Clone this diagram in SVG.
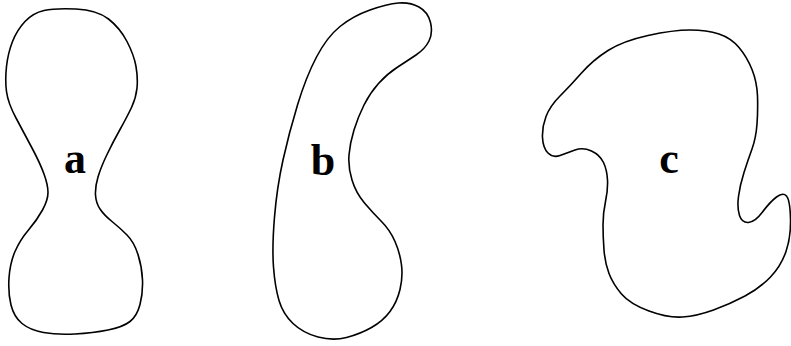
<svg xmlns="http://www.w3.org/2000/svg" width="791" height="346" viewBox="0 0 791 346">
<style>
.shape{fill:none;stroke:#000;stroke-width:1.6;stroke-linejoin:round}
.lbl{font-family:"Liberation Serif","Times New Roman",serif;font-weight:bold;font-size:44px;fill:#000;text-anchor:middle}
</style>
<rect width="791" height="346" fill="#fff"/>
<g id="shape-a">
<path class="shape" d="M44,10.5 Q55,8 76,9 Q97,10 108.5,19 Q120,28 127,41.5 Q134,55 136,66.5 Q138,78 137,88 Q136,98 131.5,107.5 Q127,117 120,129.5 Q113,142 107,154.5 Q101,167 98,177 Q95,187 95.5,195 Q96,203 100,209 Q104,215 112,221.5 Q120,228 127,235 Q134,242 138,254.5 Q142,267 142.5,280 Q143,293 140,304.5 Q137,316 130,321.5 Q123,327 108,330 Q93,333 75,334 Q57,335 43.5,332.5 Q30,330 22,323.5 Q14,317 11,305 Q8,293 9,278 Q10,263 15,251.5 Q20,240 28.5,230 Q37,220 42.5,210 Q48,200 48,192.5 Q48,185 44,174 Q40,163 32,148 Q24,133 16,118 Q8,103 6.5,91.5 Q5,80 6.5,66.5 Q8,53 12.5,41.5 Q17,30 25,21.5 Q33,13 44,10.5 Z"/>
<text class="lbl" x="75" y="173">a</text>
</g>
<g id="shape-b">
<path class="shape" d="M398.5,3 Q410,2 419,7 Q428,12 430.5,22.5 Q433,33 429,41 Q425,49 416,55 Q407,61 397,67.5 Q387,74 378.5,83.5 Q370,93 364,105 Q358,117 354,130 Q350,143 349,155 Q348,167 352,180 Q356,193 364.5,203 Q373,213 381.5,221.5 Q390,230 395,241.5 Q400,253 401.5,265 Q403,277 400,289.5 Q397,302 390,311.5 Q383,321 371.5,327.5 Q360,334 346.5,337.5 Q333,341 318,337 Q303,333 293,323.5 Q283,314 279,300.5 Q275,287 273.5,267 Q272,247 274.5,217 Q277,187 283,160 Q289,133 297.5,105 Q306,77 316.5,57 Q327,37 340,26.5 Q353,16 370,10 Q387,4 398.5,3 Z"/>
<text class="lbl" x="323" y="175">b</text>
</g>
<g id="shape-c">
<path class="shape" d="M648,35.5 Q673,30 690,30 Q707,30 719,34 Q731,38 739,47.5 Q747,57 752,69.5 Q757,82 757.5,96 Q758,110 757,124 Q756,138 752,149 Q748,160 744,172.5 Q740,185 738.5,196.5 Q737,208 739.5,215.5 Q742,223 748.5,222.5 Q755,222 762.5,212 Q770,202 776.5,197 Q783,192 786.5,196 Q790,200 790.5,218.5 Q791,237 786,251.5 Q781,266 770.5,277 Q760,288 745,296 Q730,304 713.5,310 Q697,316 682.5,317 Q668,318 649,311 Q630,304 621.5,294 Q613,284 609,273.5 Q605,263 604,250 Q603,237 603,225 Q603,213 605.5,201.5 Q608,190 607.5,180 Q607,170 603.5,162.5 Q600,155 591.5,151 Q583,147 575,150 Q567,153 560,155.5 Q553,158 548,153 Q543,148 542.5,137.5 Q542,127 546,116.5 Q550,106 560,96 Q570,86 581.5,73 Q593,60 608,50.5 Q623,41 648,35.5 Z"/>
<text class="lbl" x="669" y="173">c</text>
</g>
<g id="connectors"/>
</svg>
